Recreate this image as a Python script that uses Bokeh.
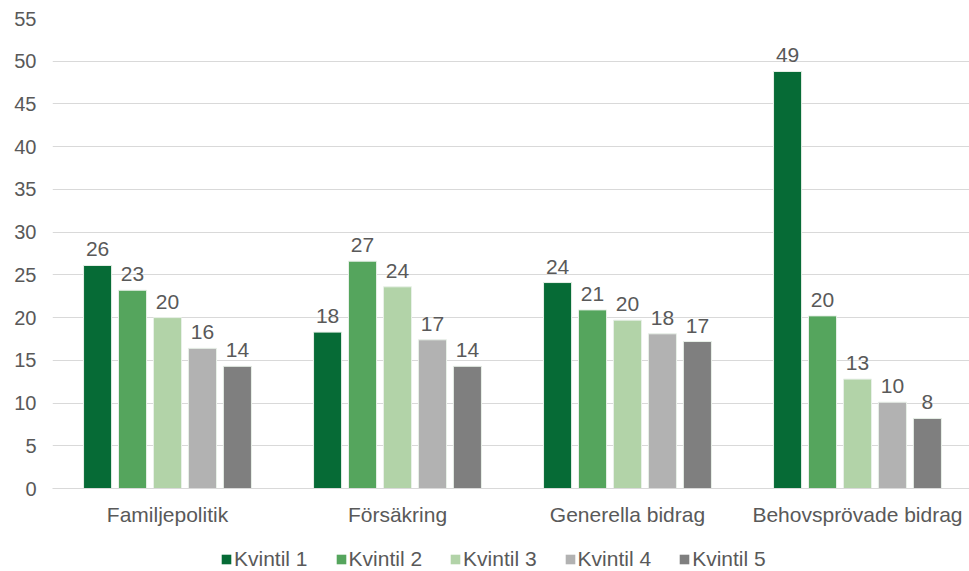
from bokeh.plotting import figure
from bokeh.models import Range1d, FixedTicker, Legend, LegendItem, ColumnDataSource
from bokeh.layouts import column
from bokeh.core.properties import value
from bokeh.embed import file_html
from bokeh.resources import INLINE

categories = ["Familjepolitik", "Försäkring", "Generella bidrag", "Behovsprövade bidrag"]
series_names = ["Kvintil 1", "Kvintil 2", "Kvintil 3", "Kvintil 4", "Kvintil 5"]
kvintil1 = [26.1, 18.3, 24.1, 48.8]
kvintil2 = [23.2, 26.6, 20.9, 20.2]
kvintil3 = [20.0, 23.6, 19.7, 12.8]
kvintil4 = [16.4, 17.4, 18.1, 10.1]
kvintil5 = [14.3, 14.3, 17.2, 8.2]
y_ticks = [0, 5, 10, 15, 20, 25, 30, 35, 40, 45, 50, 55]

series = [kvintil1, kvintil2, kvintil3, kvintil4, kvintil5]
colors = ["#066B36", "#55A55D", "#B2D3A8", "#B2B2B2", "#7F7F7F"]
FONT = "Liberation Sans"
TXT = "#595959"

W = 969
p = figure(width=W, height=528, output_backend="svg", toolbar_location=None,
           x_range=Range1d(0, 3.987), y_range=Range1d(0, 55),
           min_border_left=52, min_border_right=0, min_border_top=18, min_border_bottom=40)
p.outline_line_color = None
p.background_fill_color = "white"
p.border_fill_color = "white"

bar_w = 0.122
step = 0.152
for i, (name, vals, col) in enumerate(zip(series_names, series, colors)):
    xs = [c + 0.5 + (i - 2) * step for c in range(len(categories))]
    src = ColumnDataSource(dict(x=xs, top=vals, lab=[str(int(round(v))) for v in vals]))
    p.vbar(x="x", top="top", width=bar_w, bottom=0, source=src,
           fill_color=col, line_color="#E8F0E8", line_width=1)
    p.text(x="x", y="top", text="lab", source=src, text_align="center",
           text_baseline="bottom", y_offset=-9, text_color=TXT,
           text_font=value(FONT), text_font_size="21px")

p.yaxis.ticker = FixedTicker(ticks=y_ticks)
p.yaxis.axis_line_color = None
p.yaxis.major_tick_line_color = None
p.yaxis.major_tick_out = 0
p.yaxis.minor_tick_line_color = None
p.yaxis.major_label_text_font = FONT
p.yaxis.major_label_text_font_size = "20px"
p.yaxis.major_label_text_color = TXT
p.yaxis.major_label_standoff = 16

p.xaxis.ticker = FixedTicker(ticks=[c + 0.5 for c in range(len(categories))])
p.xaxis.major_label_overrides = {c + 0.5: name for c, name in enumerate(categories)}
p.xaxis.axis_line_color = "#D9D9D9"
p.xaxis.major_tick_line_color = None
p.xaxis.major_tick_out = 0
p.xaxis.minor_tick_line_color = None
p.xaxis.major_label_text_font = FONT
p.xaxis.major_label_text_font_size = "21px"
p.xaxis.major_label_text_color = TXT
p.xaxis.major_label_standoff = 14

p.xgrid.grid_line_color = None
p.ygrid.grid_line_color = "#D9D9D9"
p.ygrid.ticker = FixedTicker(ticks=y_ticks)

# legend strip (dummy renderers outside the visible range carry the legend swatches)
lg = figure(width=W, height=43, output_backend="svg", toolbar_location=None,
            x_axis_type=None, y_axis_type=None, x_range=Range1d(0, 1), y_range=Range1d(0, 1),
            min_border_left=0, min_border_right=0, min_border_top=0, min_border_bottom=0)
lg.outline_line_color = None
lg.xgrid.grid_line_color = None
lg.ygrid.grid_line_color = None
items = []
for name, col in zip(series_names, colors):
    r = lg.vbar(x=[-5], top=[0], width=0.1, fill_color=col, line_color=None)
    items.append(LegendItem(label=name, renderers=[r]))
legend = Legend(items=items, orientation="horizontal", location=(168, 0),
                glyph_width=12, glyph_height=12, label_standoff=2, spacing=27,
                label_text_font=FONT, label_text_font_size="21px",
                label_text_color=TXT, border_line_color=None,
                background_fill_alpha=0, padding=0, margin=0)
lg.add_layout(legend, "center")

layout = column(p, lg, spacing=0)
open("out.html", "w").write(file_html(layout, INLINE))
